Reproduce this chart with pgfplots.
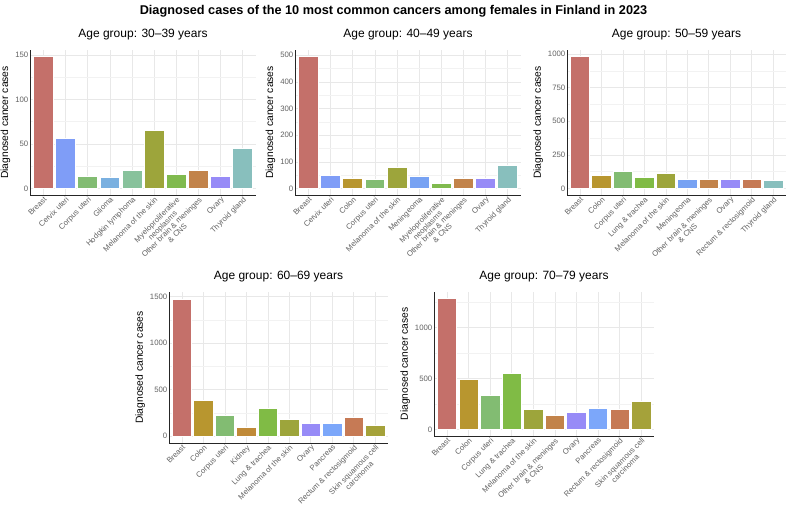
\documentclass[border=0pt]{standalone}
\usepackage{pgfplots}
\pgfplotsset{compat=1.18}
\usepackage{fontspec}
\setmainfont{Liberation Sans}

\definecolor{cBreast}{HTML}{C4706A}
\definecolor{cCervix}{HTML}{7F9DF7}
\definecolor{cCorpus}{HTML}{82BC72}
\definecolor{cGlioma}{HTML}{7AB0E0}
\definecolor{cHodgkin}{HTML}{88C29C}
\definecolor{cMelanoma}{HTML}{9DA53B}
\definecolor{cMyelo}{HTML}{80BA4E}
\definecolor{cBrain}{HTML}{C2834A}
\definecolor{cOvary}{HTML}{978BF7}
\definecolor{cThyroid}{HTML}{88BFBD}
\definecolor{cColon}{HTML}{B8962F}
\definecolor{cMening}{HTML}{77A2F3}
\definecolor{cLung}{HTML}{80BB45}
\definecolor{cRectum}{HTML}{C67A55}
\definecolor{cKidney}{HTML}{C08A38}
\definecolor{cPancreas}{HTML}{7CA7FA}
\definecolor{cSkin}{HTML}{A5A23A}

\pgfplotsset{
  panel/.style={
    scale only axis, ybar, bar width=0.9, bar shift=0pt,
    xmin=-0.6, xmax=9.6, xtick={0,...,9},
    axis lines*=left, axis line style={-, line width=0.8pt, black!85},
    major tick length=0pt, minor tick length=0pt,
    xmajorgrids, ymajorgrids, yminorgrids,
    major grid style={draw=black!9, line width=0.5pt},
    minor grid style={draw=black!5, line width=0.4pt},
    tick label style={text=black!62},
    yticklabel style={font=\fontsize{7.8}{8}\selectfont, inner sep=1.5pt},
    xticklabel style={font=\fontsize{7.7}{8}\selectfont, rotate=45, anchor=north east, align=center, inner sep=0.8pt},
    ylabel={Diagnosed cancer cases},
    ylabel style={font=\fontsize{10.3}{12}\selectfont},
    title style={font=\fontsize{12}{14}\selectfont, at={(0.5,1)}, anchor=base, yshift=6.5pt},
    /pgf/number format/assume math mode=true,
    /pgf/number format/1000 sep={},
    every axis plot/.append style={draw=white, line width=0.5pt},
  }
}

\begin{document}
\begin{tikzpicture}[x=1pt,y=1pt]
\useasboundingbox (0pt,0pt) rectangle (787pt,505pt);
\node[font=\bfseries\fontsize{12.7}{14}\selectfont] at (393.5pt,493.5pt) {Diagnosed cases of the 10 most common cancers among females in Finland in 2023};

% Panel 1: 30-39
\begin{axis}[panel, at={(30pt,310pt)}, anchor=south west, width=226pt, height=145pt,
  title={Age group: 30--39 years},
  ymin=-7.4, ymax=155.4, ytick={0,50,100,150}, minor ytick={25,75,125},
  xticklabels={Breast, Cervix uteri, Corpus uteri, Glioma, Hodgkin lymphoma, Melanoma of the skin, {Myeloproliferative\\neoplasms}, {Other brain \& meninges\\\& CNS}, Ovary, Thyroid gland}]
\addplot[fill=cBreast] coordinates {(0,148)};
\addplot[fill=cCervix] coordinates {(1,56)};
\addplot[fill=cCorpus] coordinates {(2,14)};
\addplot[fill=cGlioma] coordinates {(3,13)};
\addplot[fill=cHodgkin] coordinates {(4,20)};
\addplot[fill=cMelanoma] coordinates {(5,65)};
\addplot[fill=cMyelo] coordinates {(6,16)};
\addplot[fill=cBrain] coordinates {(7,20)};
\addplot[fill=cOvary] coordinates {(8,14)};
\addplot[fill=cThyroid] coordinates {(9,45)};
\end{axis}

% Panel 2: 40-49
\begin{axis}[panel, at={(295pt,310pt)}, anchor=south west, width=226pt, height=145pt,
  title={Age group: 40--49 years},
  ymin=-24.75, ymax=519.75, ytick={0,100,200,300,400,500}, minor ytick={50,150,250,350,450},
  xticklabels={Breast, Cervix uteri, Colon, Corpus uteri, Melanoma of the skin, Meningeoma, {Myeloproliferative\\neoplasms}, {Other brain \& meninges\\\& CNS}, Ovary, Thyroid gland}]
\addplot[fill=cBreast] coordinates {(0,495)};
\addplot[fill=cCervix] coordinates {(1,48)};
\addplot[fill=cColon] coordinates {(2,38)};
\addplot[fill=cCorpus] coordinates {(3,35)};
\addplot[fill=cMelanoma] coordinates {(4,78)};
\addplot[fill=cMening] coordinates {(5,45)};
\addplot[fill=cMyelo] coordinates {(6,18)};
\addplot[fill=cBrain] coordinates {(7,39)};
\addplot[fill=cOvary] coordinates {(8,38)};
\addplot[fill=cThyroid] coordinates {(9,88)};
\end{axis}

% Panel 3: 50-59
\begin{axis}[panel, at={(567pt,310pt)}, anchor=south west, width=219pt, height=145pt,
  title={Age group: 50--59 years},
  ymin=-49, ymax=1029, ytick={0,250,500,750,1000}, minor ytick={125,375,625,875},
  xticklabels={Breast, Colon, Corpus uteri, Lung \& trachea, Melanoma of the skin, Meningeoma, {Other brain \& meninges\\\& CNS}, Ovary, Rectum \& rectosigmoid, Thyroid gland}]
\addplot[fill=cBreast] coordinates {(0,980)};
\addplot[fill=cColon] coordinates {(1,97)};
\addplot[fill=cCorpus] coordinates {(2,129)};
\addplot[fill=cLung] coordinates {(3,80)};
\addplot[fill=cMelanoma] coordinates {(4,114)};
\addplot[fill=cMening] coordinates {(5,70)};
\addplot[fill=cBrain] coordinates {(6,65)};
\addplot[fill=cOvary] coordinates {(7,70)};
\addplot[fill=cRectum] coordinates {(8,70)};
\addplot[fill=cThyroid] coordinates {(9,62)};
\end{axis}

% Panel 4: 60-69
\begin{axis}[panel, at={(169pt,62pt)}, anchor=south west, width=219pt, height=151pt,
  title={Age group: 60--69 years},
  ymin=-73.75, ymax=1548.75, ytick={0,500,1000,1500}, minor ytick={250,750,1250},
  xticklabels={Breast, Colon, Corpus uteri, Kidney, Lung \& trachea, Melanoma of the skin, Ovary, Pancreas, Rectum \& rectosigmoid, {Skin squamous cell\\carcinoma}}]
\addplot[fill=cBreast] coordinates {(0,1475)};
\addplot[fill=cColon] coordinates {(1,387)};
\addplot[fill=cCorpus] coordinates {(2,228)};
\addplot[fill=cKidney] coordinates {(3,96)};
\addplot[fill=cLung] coordinates {(4,295)};
\addplot[fill=cMelanoma] coordinates {(5,185)};
\addplot[fill=cOvary] coordinates {(6,135)};
\addplot[fill=cPancreas] coordinates {(7,139)};
\addplot[fill=cRectum] coordinates {(8,203)};
\addplot[fill=cSkin] coordinates {(9,114)};
\end{axis}

% Panel 5: 70-79
\begin{axis}[panel, at={(434pt,69pt)}, anchor=south west, width=220pt, height=144pt,
  title={Age group: 70--79 years},
  ymin=-64.2, ymax=1348.2, ytick={0,500,1000}, minor ytick={250,750,1250},
  xticklabels={Breast, Colon, Corpus uteri, Lung \& trachea, Melanoma of the skin, {Other brain \& meninges\\\& CNS}, Ovary, Pancreas, Rectum \& rectosigmoid, {Skin squamous cell\\carcinoma}}]
\addplot[fill=cBreast] coordinates {(0,1284)};
\addplot[fill=cColon] coordinates {(1,493)};
\addplot[fill=cCorpus] coordinates {(2,337)};
\addplot[fill=cLung] coordinates {(3,549)};
\addplot[fill=cMelanoma] coordinates {(4,196)};
\addplot[fill=cBrain] coordinates {(5,137)};
\addplot[fill=cOvary] coordinates {(6,170)};
\addplot[fill=cPancreas] coordinates {(7,212)};
\addplot[fill=cRectum] coordinates {(8,199)};
\addplot[fill=cSkin] coordinates {(9,275)};
\end{axis}
\end{tikzpicture}
\end{document}
